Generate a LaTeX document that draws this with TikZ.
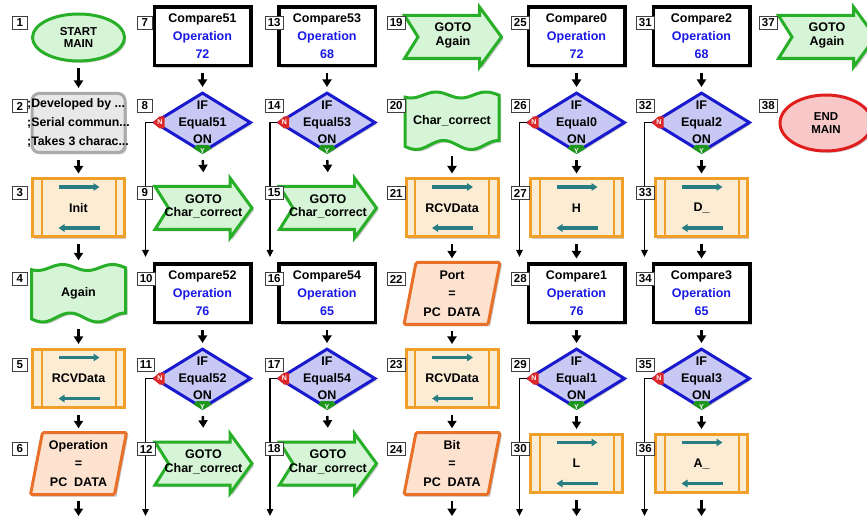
\documentclass[tikz,border=0pt]{standalone}
\usepackage{fontspec}
\setmainfont{Liberation Sans}
\usetikzlibrary{shapes.geometric,arrows.meta,shadows}
\definecolor{gBord}{RGB}{40,175,40}
\definecolor{gFill}{RGB}{214,244,214}
\definecolor{bBord}{RGB}{25,25,205}
\definecolor{bFill}{RGB}{200,200,245}
\definecolor{oBord}{RGB}{240,160,40}
\definecolor{oFill}{RGB}{253,236,212}
\definecolor{pBord}{RGB}{232,112,40}
\definecolor{pFill}{RGB}{253,226,208}
\definecolor{cBord}{RGB}{170,170,170}
\definecolor{cFill}{RGB}{232,232,232}
\definecolor{rBord}{RGB}{225,30,30}
\definecolor{rFill}{RGB}{248,200,200}
\definecolor{blueTxt}{RGB}{25,25,230}
\definecolor{tealA}{RGB}{40,125,130}
\definecolor{nRed}{RGB}{220,40,40}
\definecolor{yGreen}{RGB}{30,150,30}
\tikzset{
  blk/.style={font=\bfseries\fontsize{12.5}{18}\selectfont, align=center, inner sep=0pt},
  shd/.style={drop shadow={shadow xshift=1.8pt, shadow yshift=-1.8pt, fill=black!35, opacity=0.6}},
  shadowfill/.style={fill=black!22},
  lbl/.style={draw=black!75, line width=0.7pt, fill=white, font=\bfseries\fontsize{11.5}{12}\selectfont, inner xsep=2.5pt, inner ysep=0pt, minimum height=13pt, minimum width=15pt, anchor=west},
  flow/.style={draw=black, line width=2.4pt, -{Triangle[width=9pt,length=7.5pt]}, shorten <=6pt, shorten >=4pt},
  nline/.style={draw=black, line width=1.4pt, -{Triangle[width=6.5pt,length=7pt]}},
  termbox/.style={blk, ellipse, line width=3pt, minimum width=92pt, font=\bfseries\fontsize{11.5}{12.5}\selectfont, shd},
  cmtbox/.style={rectangle, rounded corners=7pt, draw=cBord, line width=3pt, fill=cFill, minimum width=93pt, minimum height=59pt, shd},
  cmpbox/.style={blk, rectangle, draw=black, line width=3.5pt, fill=white, minimum width=96.5pt, minimum height=58.5pt, shd},
  decbox/.style={diamond, draw=bBord, line width=3pt, fill=bFill, minimum width=97pt, minimum height=60pt, inner sep=0pt, shd},
  subbox/.style={blk, rectangle, draw=oBord, line width=3pt, fill=oFill, minimum width=92pt, minimum height=58pt, shd},
  holder/.style={blk, minimum width=94pt, minimum height=58pt},
  gotoline/.style={draw=gBord, line width=3pt, fill=gFill, line join=miter},
  waveline/.style={draw=gBord, line width=3pt, fill=gFill},
  paraline/.style={draw=pBord, line width=3pt, fill=pFill, rounded corners=1.5pt},
  tarrow/.style={draw=tealA, line width=3.2pt, -{Triangle[width=7.5pt,length=6pt]}},
  mk/.style={font=\bfseries\fontsize{7}{7}\selectfont, text=white, inner sep=0pt},
}
% name, x, y, text
\newcommand{\GotoBlk}[4]{%
  \begin{scope}[shift={(#2,#3)}]
    \fill[shadowfill] (-45.5,-19.5) -- (29.5,-19.5) -- (29.5,-28) -- (51.5,2) -- (29.5,32) -- (29.5,23.5) -- (-45.5,23.5) -- (-32,2) -- cycle;
    \filldraw[gotoline] (-47.5,-21.5) -- (27.5,-21.5) -- (27.5,-30) -- (49.5,0) -- (27.5,30) -- (27.5,21.5) -- (-47.5,21.5) -- (-34,0) -- cycle;
  \end{scope}
  \node[holder, minimum height=60pt, font=\bfseries\fontsize{12.5}{13.5}\selectfont] (#1) at (#2+1,#3-1.5) {#4};
}
\newcommand{\WaveBlk}[4]{%
  \begin{scope}[shift={(#2,#3)}]
    \fill[shadowfill, shift={(2,2)}] plot[domain=-47:47,samples=50] (\x,{-26-3*cos(7.2*(\x+16))}) -- plot[domain=47:-47,samples=50] (\x,{24+4.5*cos(6.545*(\x+36))}) -- cycle;
    \filldraw[waveline] plot[domain=-47:47,samples=50] (\x,{-26-3*cos(7.2*(\x+16))}) -- plot[domain=47:-47,samples=50] (\x,{24+4.5*cos(6.545*(\x+36))}) -- cycle;
  \end{scope}
  \node[holder] (#1) at (#2,#3) {#4};
}
\newcommand{\ParaBlk}[4]{%
  \begin{scope}[shift={(#2,#3)}]
    \fill[shadowfill] (-34,-29) -- (50,-29) -- (38,33) -- (-46,33) -- cycle;
    \filldraw[paraline] (-36,-31) -- (48,-31) -- (36,31) -- (-48,31) -- cycle;
  \end{scope}
  \node[holder, minimum height=62pt, font=\bfseries\fontsize{12.5}{18.5}\selectfont] (#1) at (#2,#3) {#4};
}
\newcommand{\SubBlk}[4]{%
  \node[subbox] (#1) at (#2,#3) {#4};
  \draw[oBord, line width=2pt] ([shift={(-37,-29)}]#1.center) -- ([shift={(-37,29)}]#1.center);
  \draw[oBord, line width=2pt] ([shift={(37,-29)}]#1.center) -- ([shift={(37,29)}]#1.center);
  \draw[tarrow] ([shift={(-20,-21)}]#1.center) -- ([shift={(21,-21)}]#1.center);
  \draw[tarrow] ([shift={(21,20)}]#1.center) -- ([shift={(-20,20)}]#1.center);
}
% name, x, y, title, value
\newcommand{\CmpBlk}[5]{%
  \node[cmpbox] (#1) at (#2,#3) {#4\\\textcolor{blueTxt}{Operation}\\\textcolor{blueTxt}{#5}};
}
% name, x, y, variable
\newcommand{\DecBlk}[4]{%
  \node[decbox] (#1) at (#2,#3) {};
  \fill[nRed] (#1.west) -- ++(7,-6) -- ++(5,0) -- ++(0,12) -- ++(-5,0) -- cycle;
  \node[mk] (#1n) at ([xshift=7.5pt]#1.west) {N};
  \fill[yGreen] (#1.south) -- ++(-9,-5.5) -- ++(3,-3.5) -- ++(12,0) -- ++(3,3.5) -- cycle;
  \node[mk] (#1y) at ([yshift=3.2pt]#1.south) {Y};
  \node[blk, font=\bfseries\fontsize{12.5}{17}\selectfont] (#1t) at (#2,#3) {IF\\#4\\ON};
}
\begin{document}
\begin{tikzpicture}[x=1pt,y=-1pt]
\fill[white] (0,0) rectangle (867,518);
\useasboundingbox (0,0) rectangle (867,518);
% ---- column 1
\node[termbox, draw=gBord, fill=gFill, minimum height=47pt] (b1) at (78.5,37.5) {START\\MAIN};
\node[cmtbox] (b2) at (78.5,123) {};
\node[blk, align=left, anchor=west, font=\bfseries\fontsize{12.3}{19}\selectfont] (b2t) at (27,123) {;Developed by ...\\;Serial commun...\\;Takes 3 charac...};
\SubBlk{b3}{78.5}{208}{Init}
\WaveBlk{b4}{78.5}{293.5}{Again}
\SubBlk{b5}{78.5}{378.5}{RCVData}
\ParaBlk{b6}{78.5}{463.5}{Operation\\=\\PC\ \ DATA}
% ---- column 2
\CmpBlk{b7}{202.5}{36.5}{Compare51}{72}
\DecBlk{b8}{202.5}{122.5}{Equal51}
\GotoBlk{b9}{202.5}{208}{GOTO\\Char\_correct}
\CmpBlk{b10}{202.5}{293.5}{Compare52}{76}
\DecBlk{b11}{202.5}{378.5}{Equal52}
\GotoBlk{b12}{202.5}{463.5}{GOTO\\Char\_correct}
% ---- column 3
\CmpBlk{b13}{327}{36.5}{Compare53}{68}
\DecBlk{b14}{327}{122.5}{Equal53}
\GotoBlk{b15}{327}{208}{GOTO\\Char\_correct}
\CmpBlk{b16}{327}{293.5}{Compare54}{65}
\DecBlk{b17}{327}{378.5}{Equal54}
\GotoBlk{b18}{327}{463.5}{GOTO\\Char\_correct}
% ---- column 4
\GotoBlk{b19}{452}{37}{GOTO\\Again}
\WaveBlk{b20}{452}{121}{Char\_correct}
\SubBlk{b21}{452}{208}{RCVData}
\ParaBlk{b22}{452}{293.5}{Port\\=\\PC\ \ DATA}
\SubBlk{b23}{452}{378.5}{RCVData}
\ParaBlk{b24}{452}{463.5}{Bit\\=\\PC\ \ DATA}
% ---- column 5
\CmpBlk{b25}{576.5}{36.5}{Compare0}{72}
\DecBlk{b26}{576.5}{122.5}{Equal0}
\SubBlk{b27}{576.5}{208}{H}
\CmpBlk{b28}{576.5}{293.5}{Compare1}{76}
\DecBlk{b29}{576.5}{378.5}{Equal1}
\SubBlk{b30}{576.5}{463.5}{L}
% ---- column 6
\CmpBlk{b31}{701.5}{36.5}{Compare2}{68}
\DecBlk{b32}{701.5}{122.5}{Equal2}
\SubBlk{b33}{701.5}{208}{D\_}
\CmpBlk{b34}{701.5}{293.5}{Compare3}{65}
\DecBlk{b35}{701.5}{378.5}{Equal3}
\SubBlk{b36}{701.5}{463.5}{A\_}
% ---- column 7
\GotoBlk{b37}{826}{37}{GOTO\\Again}
\node[termbox, draw=rBord, fill=rFill, minimum height=56pt] (b38) at (826,123) {END\\MAIN};
% ---- flow connectors
\foreach \a/\b in {b1/b2,b2/b3,b3/b4,b4/b5,b5/b6,b7/b8,b8/b9,b10/b11,b11/b12,b13/b14,b14/b15,b16/b17,b17/b18,b20/b21,b21/b22,b22/b23,b23/b24,b25/b26,b26/b27,b27/b28,b28/b29,b29/b30,b31/b32,b32/b33,b33/b34,b34/b35,b35/b36}
  \draw[flow] (\a.south) -- (\b.north);
\foreach \a/\xx in {b6/78.5,b24/452,b30/576.5,b36/701.5}{
  \coordinate (z\a) at (\xx,516);
  \draw[flow, shorten >=0pt] (\a.south) -- (z\a);
}
% ---- "N" branches
\foreach \d/\xx/\yy in {b8/145.5/257,b11/145.5/516,b14/270/257,b17/270/516,b26/519.5/257,b29/519.5/516,b32/644.5/257,b35/644.5/516}{
  \coordinate (e\d) at (\xx,\yy);
  \draw[nline] (\d.west) -| (e\d);
}
% ---- step numbers
\foreach \n/\lx/\ly in {1/12/23,2/12/106,3/12/193,4/12/279,5/12/365,6/12/449,
  7/137/23,8/137/106,9/137/193,10/137/279,11/137/365,12/137/449,
  13/265/23,14/265/106,15/265/193,16/265/279,17/265/365,18/265/449,
  19/387/23,20/387/106,21/387/193,22/387/279,23/387/365,24/387/449,
  25/511/23,26/511/106,27/511/193,28/511/279,29/511/365,30/511/449,
  31/636/23,32/636/106,33/636/193,34/636/279,35/636/365,36/636/449,
  37/759/23,38/759/106}
  \node[lbl] (l\n) at (\lx,\ly) {\n};
\end{tikzpicture}
\end{document}
